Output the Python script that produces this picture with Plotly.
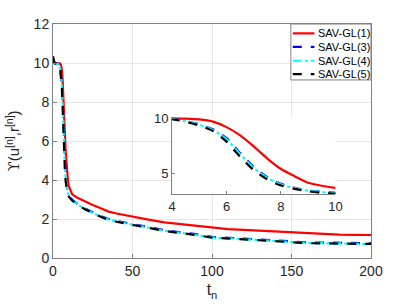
import plotly.graph_objects as go

t = [0, 0.5, 1, 2, 3, 4, 4.5, 5, 5.5, 6, 6.5, 7, 7.5, 8, 8.5, 9, 9.5, 10,
     12, 15, 20, 25, 30, 35, 40, 50, 60, 70, 80, 90, 100, 110, 120, 130,
     140, 150, 160, 170, 180, 190, 200]

sav_gl1 = [10.15, 10.05, 10.02, 10.0, 10.0, 10.0, 9.97, 9.9, 9.7, 9.2, 8.45, 7.45,
           6.35, 5.4, 4.75, 4.15, 3.88, 3.69,
           3.27, 3.1, 2.9, 2.72, 2.55, 2.38, 2.28, 2.11, 1.97, 1.83, 1.74, 1.64,
           1.57, 1.48, 1.44, 1.40, 1.35, 1.31, 1.28, 1.21, 1.20, 1.19, 1.18]

sav_gl3 = [10.2, 10.02, 10.0, 9.98, 9.96, 9.95, 9.75, 9.45, 9.0, 8.2, 6.85, 5.6,
           4.65, 4.05, 3.7, 3.45, 3.33, 3.24,
           3.0, 2.8, 2.54, 2.35, 2.15, 2.0, 1.9, 1.74, 1.57, 1.43, 1.32, 1.22,
           1.08, 1.05, 1.0, 0.95, 0.9, 0.82, 0.8, 0.79, 0.78, 0.77, 0.76]

sav_gl4 = [10.2, 10.0, 9.98, 9.96, 9.95, 9.94, 9.72, 9.42, 8.95, 8.1, 6.75, 5.5,
           4.6, 4.0, 3.66, 3.42, 3.3, 3.2,
           2.97, 2.77, 2.51, 2.32, 2.12, 1.97, 1.87, 1.71, 1.54, 1.4, 1.29, 1.19,
           1.05, 1.02, 0.97, 0.92, 0.87, 0.79, 0.77, 0.76, 0.75, 0.73, 0.72]

sav_gl5 = [10.35, 10.0, 9.98, 9.96, 9.94, 9.93, 9.68, 9.35, 8.85, 7.88, 6.5, 5.3,
           4.45, 3.9, 3.6, 3.38, 3.24, 3.15,
           2.95, 2.76, 2.5, 2.31, 2.11, 1.96, 1.86, 1.7, 1.53, 1.39, 1.28, 1.18,
           1.04, 1.01, 0.96, 0.91, 0.86, 0.78, 0.76, 0.75, 0.74, 0.73, 0.72]

names = ["SAV-GL(1)", "SAV-GL(3)", "SAV-GL(4)", "SAV-GL(5)"]
series = [sav_gl1, sav_gl3, sav_gl4, sav_gl5]
colors = ["#ff0000", "#0000ff", "#00ffff", "#000000"]
dashes = ["solid", "dash", "dashdot", "dash"]

main_xticks = [0, 50, 100, 150, 200]
main_yticks = [0, 2, 4, 6, 8, 10, 12]
inset_xticks = [4, 6, 8, 10]
inset_yticks = [5, 10]

FONT = "Liberation Sans, Arial, sans-serif"
AXC = "#808080"
TXT = "#262626"
LW = 2.2

fig = go.Figure()
for nm, ys, c, d in zip(names, series, colors, dashes):
    fig.add_trace(go.Scatter(x=t, y=ys, mode="lines", name=nm, showlegend=False,
                             line=dict(color=c, width=LW, dash=d),
                             xaxis="x", yaxis="y"))
for nm, ys, c, d in zip(names, series, colors, dashes):
    fig.add_trace(go.Scatter(x=t, y=ys, mode="lines", name=nm, showlegend=False,
                             line=dict(color=c, width=LW, dash=d,
                                       shape="spline", smoothing=0.6),
                             xaxis="x2", yaxis="y2"))

# Legend box (MATLAB style, compact) built from the series styles
shapes = [dict(type="rect", xref="paper", yref="paper",
               x0=0.748, x1=1.0, y0=0.761, y1=1.0,
               line=dict(color=AXC, width=1), fillcolor="white", layer="above")]
annotations = []
row_y = [0.960, 0.902, 0.843, 0.786]
for nm, c, d, ry in zip(names, colors, dashes, row_y):
    shapes.append(dict(type="line", xref="paper", yref="paper",
                       x0=0.754, x1=0.822, y0=ry, y1=ry, layer="above",
                       line=dict(color=c, width=LW, dash=d)))
    annotations.append(dict(xref="paper", yref="paper", x=0.826, y=ry,
                            xanchor="left", yanchor="middle", showarrow=False,
                            text=nm, font=dict(size=11, color="black", family=FONT)))

fig.update_layout(
    width=409, height=307,
    margin=dict(l=53, r=38, t=24, b=49),
    paper_bgcolor="white", plot_bgcolor="white",
    font=dict(family=FONT, size=14, color=TXT),
    showlegend=False,
    shapes=shapes, annotations=annotations,
    xaxis=dict(domain=[0, 1], range=[0, 200], tickvals=main_xticks,
               showgrid=True, gridcolor="#e6e6e6", zeroline=False,
               showline=True, linecolor=AXC, mirror=True,
               ticks="inside", ticklen=4, tickcolor=AXC,
               title=dict(text="t<sub>n</sub>", standoff=6,
                          font=dict(size=16, color=TXT))),
    yaxis=dict(domain=[0, 1], range=[0, 12], tickvals=main_yticks,
               showgrid=True, gridcolor="#e6e6e6", zeroline=False,
               showline=True, linecolor=AXC, mirror=True,
               ticks="inside", ticklen=4, tickcolor=AXC,
               title=dict(text="<span style='font-family:DejaVu Serif'>ϒ</span>(u<sup>[n]</sup>,r<sup>[n]</sup>)",
                          standoff=10, font=dict(size=15, color=TXT))),
    xaxis2=dict(domain=[0.3745, 0.888], range=[4, 10], tickvals=inset_xticks,
                anchor="y2", showgrid=False, zeroline=False,
                showline=True, linecolor=AXC, mirror=False,
                ticks="inside", ticklen=3, tickcolor=AXC,
                tickfont=dict(size=13, color=TXT)),
    yaxis2=dict(domain=[0.272, 0.604], range=[3.1, 10.15], tickvals=inset_yticks,
                anchor="x2", showgrid=False, zeroline=False,
                showline=True, linecolor=AXC, mirror=False,
                ticks="inside", ticklen=3, tickcolor=AXC,
                tickfont=dict(size=13, color=TXT)),
)

fig.write_html("out.html", config={"displayModeBar": False},
               post_script="document.body.style.margin='0';document.body.style.padding='0';")
